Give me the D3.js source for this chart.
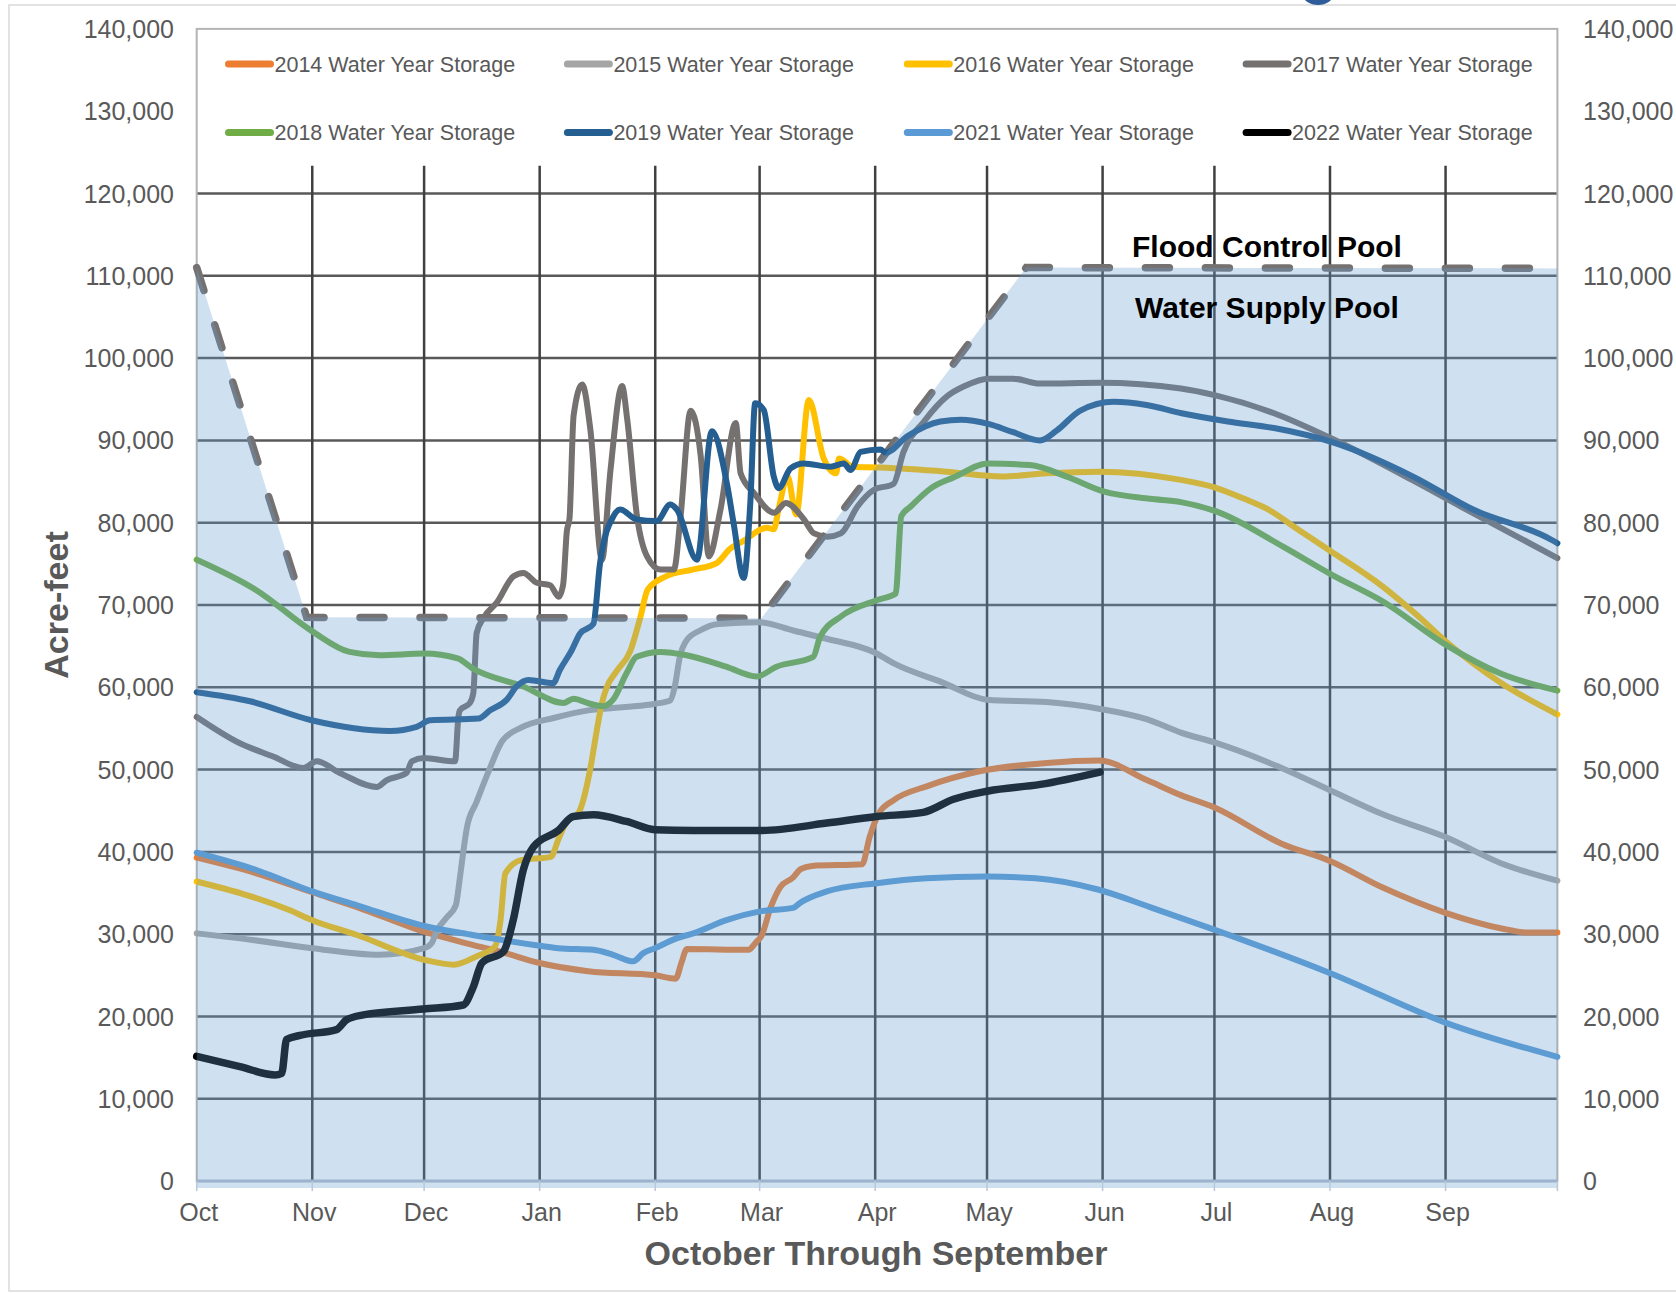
<!DOCTYPE html>
<html><head><meta charset="utf-8">
<script src="https://cdn.jsdelivr.net/npm/d3@7"></script>
<style>
body{margin:0;background:#fff;}
text{font-family:"Liberation Sans",Arial,sans-serif;}
</style>
</head><body>
<svg id="chart" width="1676" height="1293"></svg>
<script>
// ---------- data (day of water year from Oct 1, acre-feet) ----------
const monthLabels = ["Oct","Nov","Dec","Jan","Feb","Mar","Apr","May","Jun","Jul","Aug","Sep"];
const yTickValues = [0,10000,20000,30000,40000,50000,60000,70000,80000,90000,100000,110000,120000,130000,140000];
const seriesNames = ["2014 Water Year Storage","2015 Water Year Storage","2016 Water Year Storage","2017 Water Year Storage",
                     "2018 Water Year Storage","2019 Water Year Storage","2021 Water Year Storage","2022 Water Year Storage"];
const seriesColors = ["#ED7D31","#A5A5A5","#FFC000","#767171","#70AD47","#255E91","#5B9BD5","#000000"];

const ruleCurve = [[0,111000],[29.5,68500],[151.5,68400],[222.5,111000],[365,110900]];

const s2014 = [[0,39300],[16,37400],[31,35100],[43,33300],[61,30300],[74,28700],[82,27800],[92,26500],[105,25500],[123,25000],
 [128.5,24600],[130,26500],[131.5,28200],[148,28100],[150,29000],[151.5,29800],[154,33300],[156.5,35700],[160,36900],[162,37900],
 [165,38300],[178.5,38500],[180.5,41800],[183,44700],[187,46300],[196,48000],[210,49800],[228,50800],[242,51100],[255,48700],
 [264,46900],[273,45400],[291,41000],[304,38900],[318,35700],[335,32600],[350,30700],[357,30200],[365,30200]];

const s2015 = [[0,30100],[15,29300],[31,28300],[49,27500],[61,28300],[63,28900],[64.5,30500],[67,32000],[69.5,33500],[70.5,36500],
 [71.5,40000],[72.5,43000],[75,46000],[78.5,50000],[82,53500],[87,55100],[96,56300],[105,57200],[115,57600],[123,58000],[127,58400],
 [128.2,60000],[129.6,63700],[131.4,65700],[135,66900],[140,67700],[151,67900],[160,66900],[169,65900],[182,64200],[187,62900],
 [200,60600],[212,58500],[228,58200],[242,57400],[255,56100],[264,54500],[273,53300],[291,50200],[304,47500],[318,44600],
 [335,41800],[350,38600],[365,36500]];

const s2016 = [[0,36400],[25,32900],[31,31700],[43,29900],[61,26900],[69,26300],[75,27300],[80,28500],[81.5,31700],[82.8,37400],
 [87,39000],[95,39400],[97,41500],[99,43500],[102.5,44800],[105.5,49900],[107.3,54700],[108.6,57900],[110,60000],[112.7,62000],
 [116.3,64400],[119,68500],[121,71900],[126,73500],[133,74300],[139.5,75100],[143,76800],[146.7,77800],[153,79400],[154.8,79200],
 [156.1,81700],[158.5,85600],[160.8,81000],[164.2,94900],[168.2,87800],[171.5,86000],[172.3,87800],[176,86800],[183.3,86700],
 [201,86200],[216,85600],[228,86000],[242,86200],[264,85200],[273,84300],[281,82900],[287,81700],[296,79000],[304,76600],
 [318,72300],[327,68900],[335,65600],[350,60500],[365,56700]];

const s2017 = [[0,56400],[11.6,53200],[20.5,51600],[28.6,50200],[32.2,51000],[38.4,49600],[48.3,47900],[50.9,48700],[56.3,49600],
 [57.7,51000],[60.8,51400],[69.3,51000],[70.2,56400],[70.6,57200],[73.3,58100],[74.2,59300],[75.1,66600],[76.9,68400],[80.5,70300],
 [85,73500],[87.6,73900],[91.2,72700],[94.8,72400],[97.1,71000],[98.3,72500],[99.3,79000],[100,80500],[101.1,93000],[103.4,96800],
 [105.6,91300],[108.7,75500],[111,86400],[114.1,96600],[115.5,92500],[118.1,80800],[120.8,75900],[124.4,74300],[128,74300],
 [129.8,80800],[132.5,93600],[135.2,88100],[137.4,75900],[140.5,81600],[144.6,92100],[145.9,86000],[149.5,83600],[154.9,81200],
 [158,82400],[162.9,80400],[165.6,78700],[169.2,78300],[172.8,78700],[177.3,82000],[181.7,84000],[186.9,84700],[189.6,88600],
 [195.1,92300],[201.4,95400],[206,96600],[212.3,97500],[219,97500],[226.2,96900],[242.3,97000],[264,96300],[273,95500],
 [289,93300],[305,90100],[326,85200],[339,82000],[365,75700]];

const s2018 = [[0,75500],[16,71800],[31,66800],[41,64300],[49,63900],[61,64100],[70,63500],[74,62300],[87.6,60100],[98.4,58100],
 [101,58600],[105.5,58000],[109,57700],[111.7,58500],[115.3,61700],[118,63700],[124.3,64300],[131.4,63900],[142,62500],[150.2,61300],
 [155.5,62500],[165.4,63700],[167.2,66100],[172.8,68600],[182.6,70600],[187.5,71400],[189,80800],[191.6,82000],[197,84200],
 [203,85500],[212.3,87200],[223.5,87000],[233.4,85600],[243.2,83800],[255.7,82900],[264,82500],[273.3,81400],[291.4,77100],
 [304.4,73700],[318.3,70400],[335.3,65100],[349.6,61700],[365,59600]];

const s2019 = [[0,59400],[14.3,58300],[30.8,56000],[51.8,54700],[59,55200],[62.6,56000],[75.6,56200],[78.7,57200],[83.2,58500],
 [85.8,60100],[89,60900],[95.6,60500],[97.4,62100],[100.6,64500],[102.8,66500],[106.4,67700],[108.2,75100],[111.8,80800],
 [113.6,81600],[118,80400],[123.4,80200],[127,82200],[128.8,81600],[134.2,75500],[138.2,91100],[142.2,84800],[144,80000],
 [146.7,73300],[148.5,82400],[149.8,94500],[152.1,93700],[154.8,85600],[156.1,84200],[159.3,86600],[162.8,87200],[170,86800],
 [173.6,87200],[175.4,86400],[178.1,88600],[183.4,88900],[184.8,88500],[190.6,90500],[199.5,92300],[205,92500],[212.3,92000],
 [219,91000],[226.2,90000],[230.7,91200],[236.9,93600],[246,94700],[254.8,94300],[264.2,93300],[276.6,92300],[289,91500],
 [305.2,89700],[326.3,85600],[342.4,81600],[363.5,77900],[365,77500]];

const s2021 = [[0,39900],[16,37800],[31,35200],[43,33500],[61,31000],[74,29900],[92,28600],[97,28300],[106.4,28100],[111.7,27500],
 [117.1,26700],[119.8,27700],[122.9,28300],[128.7,29500],[133.2,30100],[142.1,31700],[151.5,32800],[160,33200],[161.8,33800],
 [169,35200],[182.4,36200],[195.8,36800],[212,37000],[225,36800],[242,35400],[255.7,33300],[273.3,30500],[304.4,25200],
 [335.3,19200],[365,15100]];

const s2022 = [[0,15150],[11.6,13900],[21,12900],[22.8,13100],[24.1,17200],[27.7,17700],[37.5,18400],[40.2,19600],[44.7,20200],
 [60.8,20900],[71.5,21400],[74.2,23600],[76.5,26500],[82.3,27900],[84.9,31700],[87.6,37800],[90.3,40600],[97,42600],[101,44300],
 [106.4,44500],[115.3,43700],[122.9,42700],[133.2,42600],[151.5,42600],[169,43500],[182.4,44300],[194.9,44800],[203,46400],
 [212.3,47400],[226.3,48200],[242.3,49700]];

const seriesData = [s2014,s2015,s2016,s2017,s2018,s2019,s2021,s2022];

// ---------- scales ----------
const start = new Date(Date.UTC(2021,9,1));
const end = new Date(Date.UTC(2022,9,1));
const toDate = d => new Date(start.getTime() + d*864e5);
const L = 196.7, R = 1557.4, T = 28.9, B = 1181.1;
const x = d3.scaleUtc().domain([start,end]).range([L,R]);
const y = d3.scaleLinear().domain([0,140000]).range([B,T]);
const monthStarts = d3.utcMonth.range(start,end);

const svg = d3.select("#chart");
svg.append("rect").attr("x",0).attr("y",0).attr("width",1676).attr("height",1293).attr("fill","#fff");
// outer frame
svg.append("rect").attr("x",9).attr("y",5).attr("width",1700).attr("height",1286)
  .attr("fill","none").attr("stroke","#d9d9d9").attr("stroke-width",1.5);

const g = svg.append("g");

g.append("text").attr("x",1267).attr("y",257).attr("text-anchor","middle")
  .attr("font-size",30).attr("font-weight","bold").attr("fill","#000").text("Flood Control Pool");

// horizontal gridlines
g.selectAll("line.h").data(yTickValues.filter(v => v>0 && v<=120000)).join("line")
  .attr("x1",L).attr("x2",R).attr("y1",d=>y(d)).attr("y2",d=>y(d))
  .attr("stroke","#595959").attr("stroke-width",2.5);
// vertical gridlines
g.selectAll("line.v").data(monthStarts.slice(1)).join("line")
  .attr("x1",d=>x(d)).attr("x2",d=>x(d)).attr("y1",165.7).attr("y2",B)
  .attr("stroke","#404040").attr("stroke-width",2.5);
// plot border
g.append("rect").attr("x",L).attr("y",T).attr("width",R-L).attr("height",B-T)
  .attr("fill","none").attr("stroke","#b4b4b4").attr("stroke-width",2);

// dashed rule curve
const lineGen = d3.line().x(d=>x(toDate(d[0]))).y(d=>y(d[1]));
g.append("path").datum(ruleCurve).attr("d",lineGen).attr("fill","none")
  .attr("stroke","#767171").attr("stroke-width",7.5).attr("stroke-linecap","round")
  .attr("stroke-dasharray","24 36");

// series
const curveGen = d3.line().x(d=>x(toDate(d[0]))).y(d=>y(d[1])).curve(d3.curveMonotoneX);
seriesData.forEach((s,i)=>{
  g.append("path").datum(s).attr("d",curveGen).attr("fill","none")
   .attr("stroke",seriesColors[i]).attr("stroke-width", i===7 ? 7.5 : 6)
   .attr("stroke-linejoin","round").attr("stroke-linecap","round");
});

// water supply pool fill (translucent overlay)
const areaGen = d3.area().x(d=>x(toDate(d[0]))).y0(B+7).y1(d=>y(d[1]));
g.append("path").datum(ruleCurve).attr("d",areaGen)
  .attr("fill","rgb(100,155,206)").attr("fill-opacity",0.31);

// bottom axis line + ticks
g.append("line").attr("x1",L).attr("x2",R).attr("y1",B).attr("y2",B)
  .attr("stroke","#9bb3cc").attr("stroke-width",3);
g.selectAll("line.t").data(monthStarts.concat([end])).join("line")
  .attr("x1",d=>x(d)).attr("x2",d=>x(d)).attr("y1",B).attr("y2",B+10)
  .attr("stroke","#b8c9da").attr("stroke-width",1.5);

g.append("text").attr("x",1267).attr("y",318).attr("text-anchor","middle")
  .attr("font-size",30).attr("font-weight","bold").attr("fill","#000").text("Water Supply Pool");

// y tick labels left & right
const fmt = d3.format(",");
svg.selectAll("text.yl").data(yTickValues).join("text")
  .attr("x",174).attr("y",d=>y(d)+9).attr("text-anchor","end")
  .attr("font-size",25).attr("fill","#595959").text(d=>fmt(d));
svg.selectAll("text.yr").data(yTickValues).join("text")
  .attr("x",1583).attr("y",d=>y(d)+9).attr("text-anchor","start")
  .attr("font-size",25).attr("fill","#595959").text(d=>fmt(d));

// month labels
svg.selectAll("text.m").data(monthStarts).join("text")
  .attr("x",(d)=>x(d)+2).attr("y",1221).attr("text-anchor","middle")
  .attr("font-size",25).attr("fill","#595959").text((d,i)=>monthLabels[i]);

// axis titles
svg.append("text").attr("x",876).attr("y",1265).attr("text-anchor","middle")
  .attr("font-size",34).attr("font-weight","bold").attr("fill","#595959").text("October Through September");
svg.append("text").attr("transform","translate(68,605) rotate(-90)").attr("text-anchor","middle")
  .attr("font-size",34).attr("font-weight","bold").attr("fill","#595959").text("Acre-feet");

// legend
const legX = [225.5,564.4,904.3,1243.1], legY = [64.1,132.5];
seriesNames.forEach((n,i)=>{
  const lx = legX[i%4], ly = legY[Math.floor(i/4)];
  svg.append("line").attr("x1",lx+3).attr("x2",lx+45).attr("y1",ly).attr("y2",ly)
    .attr("stroke",seriesColors[i]).attr("stroke-width",7).attr("stroke-linecap","round");
  svg.append("text").attr("x",lx+49).attr("y",ly+7.5).attr("font-size",21.5)
    .attr("fill","#595959").text(n);
});

// cropped title fragment at top edge
svg.append("ellipse").attr("cx",1318).attr("cy",-5).attr("rx",15).attr("ry",10).attr("fill","#2e5c9a");
</script>
</body></html>
